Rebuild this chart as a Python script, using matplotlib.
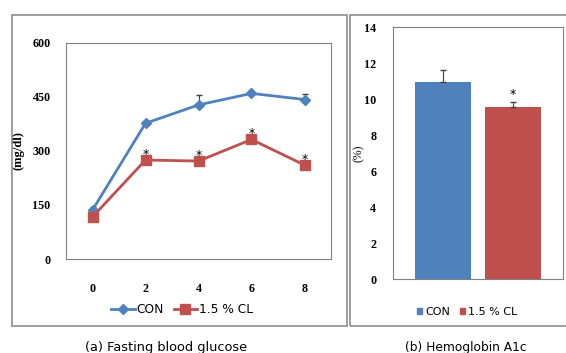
import matplotlib.pyplot as plt
from matplotlib.patches import Rectangle
from matplotlib.lines import Line2D
import numpy as np

# (a) fasting blood glucose, mg/dl
weeks = ["0", "2", "4", "6", "8"]
con_glu = [136, 377, 428, 460, 443]
con_glu_err = [8, 5, 28, 8, 14]
cl_glu = [117, 275, 272, 332, 261]
cl_glu_err = [5, 8, 8, 8, 6]
cl_glu_sig = [False, True, True, True, True]

# (b) hemoglobin A1c, %
groups = ["CON", "1.5 % CL"]
hba1c = [10.92, 9.53]
hba1c_err = [0.71, 0.28]
hba1c_sig = [False, True]

blue = "#4F81BD"
red = "#C0504D"
W, H = 566, 353

fig = plt.figure(figsize=(W / 100, H / 100), dpi=100)

def box(x0, y0, x1, y1):
    # pixel coords from top-left
    return [x0 / W, 1 - y1 / H, (x1 - x0) / W, (y1 - y0) / H]

# panel frames
for x0, y0, x1, y1 in [(12, 15, 347, 326), (350, 15, 570, 326)]:
    fig.patches.append(Rectangle((x0 / W, 1 - y1 / H), (x1 - x0) / W, (y1 - y0) / H,
                                 transform=fig.transFigure, fill=False,
                                 edgecolor="#8c8c8c", linewidth=1.2))

tick_font = dict(family="Liberation Serif", weight="bold", size=8.7)
label_font = dict(family="Liberation Serif", weight="bold", size=9)

# ---- (a) line chart
ax1 = fig.add_axes(box(66, 43, 331, 259))
x = np.arange(len(weeks))
ax1.errorbar(x, con_glu, yerr=[np.zeros(len(x)), con_glu_err], color=blue, lw=2,
             marker="D", ms=5, ecolor="#404040", elinewidth=0.8, capsize=2.5,
             zorder=3)
ax1.errorbar(x, cl_glu, yerr=[np.zeros(len(x)), cl_glu_err], color=red, lw=2,
             marker="s", ms=7, ecolor="#404040", elinewidth=0.8, capsize=2.5,
             zorder=3)
for xi, v, e, s in zip(x, cl_glu, cl_glu_err, cl_glu_sig):
    if s:
        ax1.text(xi, v + e + 8, "*", ha="center", va="center", fontsize=9,
                 color="black", zorder=4)
ax1.set_xlim(-0.5, len(weeks) - 0.5)
ax1.set_ylim(0, 600)
ax1.set_yticks([0, 150, 300, 450, 600])
ax1.set_xticks(x)
ax1.set_xticklabels(weeks)
ax1.tick_params(axis="y", length=0, pad=11)
ax1.tick_params(axis="x", length=0, pad=17)
for lab in ax1.get_xticklabels() + ax1.get_yticklabels():
    lab.set(**tick_font)
ax1.set_ylabel("(mg/dl)", fontdict=label_font)
ax1.yaxis.set_label_coords(-0.155, 0.5)
for sp in ax1.spines.values():
    sp.set_color("#808080")
h1 = [Line2D([], [], color=blue, lw=2, marker="D", ms=5),
      Line2D([], [], color=red, lw=2, marker="s", ms=7)]
ax1.legend(h1, groups, loc="upper center", bbox_to_anchor=(0.438, -0.155), ncol=2,
           frameon=False, prop=dict(family="DejaVu Sans", size=8.8),
           handlelength=1.9, columnspacing=0.8, handletextpad=0.15)
fig.text(166 / W, 1 - 347 / H, "(a) Fasting blood glucose", ha="center", va="center",
         family="DejaVu Sans", fontsize=9.3)

# ---- (b) bar chart
ax2 = fig.add_axes(box(393, 27, 563, 279))
xb = np.arange(len(groups))
ax2.bar(xb, hba1c, width=0.8, color=[blue, red], zorder=2)
ax2.errorbar(xb, hba1c, yerr=[np.zeros(len(xb)), hba1c_err], fmt="none",
             ecolor="#404040", elinewidth=0.8, capsize=2.5, zorder=3)
for xi, v, e, s in zip(xb, hba1c, hba1c_err, hba1c_sig):
    if s:
        ax2.text(xi, v + e + 0.45, "*", ha="center", va="center", fontsize=9)
ax2.set_xlim(-0.714, 1.714)
ax2.set_ylim(0, 14)
ax2.set_yticks(range(0, 15, 2))
ax2.set_xticks([])
ax2.tick_params(length=0, pad=12)
for lab in ax2.get_yticklabels():
    lab.set(**tick_font)
ax2.set_ylabel("(%)", family="Liberation Serif", fontsize=8.5)
ax2.yaxis.set_label_coords(-0.165, 0.5)
for sp in ax2.spines.values():
    sp.set_color("#808080")
h2 = [Rectangle((0, 0), 1, 1, color=blue), Rectangle((0, 0), 1, 1, color=red)]
ax2.legend(h2, groups, loc="upper center", bbox_to_anchor=(0.435, -0.07), ncol=2,
           frameon=False, prop=dict(family="DejaVu Sans", size=8),
           handlelength=0.5, handleheight=0.5, columnspacing=0.9,
           handletextpad=0.25)
fig.text(466 / W, 1 - 347 / H, "(b) Hemoglobin A1c", ha="center", va="center",
         family="DejaVu Sans", fontsize=8.8)

fig.savefig("out.png", dpi=100)
